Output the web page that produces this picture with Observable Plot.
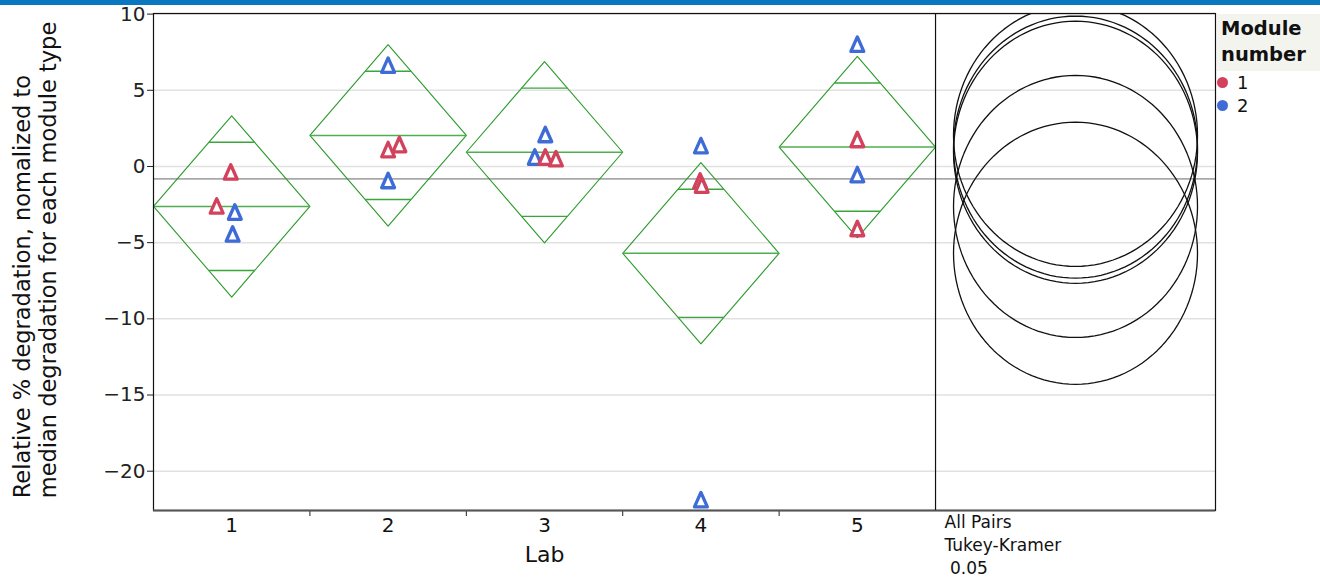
<!DOCTYPE html>
<html>
<head>
<meta charset="utf-8">
<script src="https://cdn.jsdelivr.net/npm/d3@7"></script>
<script src="https://cdn.jsdelivr.net/npm/@observablehq/plot@0.6"></script>
<style>
  body { margin: 0; background: #fff; font-family: "DejaVu Sans", sans-serif; }
  #wrap { position: relative; width: 1320px; height: 577px; overflow: hidden; background: #fff; }
  #bar { position: absolute; left: 0; top: 0; width: 1320px; height: 5px; background: #0b77bf; z-index: 2; }
  #ytitle { position: absolute; left: 35px; top: 260px; transform: translate(-50%, -50%) rotate(-90deg);
    white-space: nowrap; text-align: left; font-size: 22.5px; line-height: 26px; color: #111; z-index: 2; }
  #legend { position: absolute; left: 1217px; top: 14px; width: 103px; z-index: 2; }
  #legend .title { background: #f4f4ef; font-weight: bold; font-size: 19.5px; line-height: 26px; padding: 2px 0 3px 4px; color: #111; }
  #legend .item { position: relative; height: 23px; font-size: 18px; line-height: 23px; color: #111; }
  #legend .dot { position: absolute; left: 0px; top: 6px; width: 11px; height: 11px; border-radius: 50%; }
  #legend .lab { position: absolute; left: 20px; top: 0; }
  #chart { position: absolute; left: 0; top: 0; }
</style>
</head>
<body>
<div id="wrap">
  <div id="bar"></div>
  <div id="ytitle">Relative % degradation, nomalized to<br>median degradation for each module type</div>
  <div id="chart"></div>
  <div id="legend"></div>
</div>
<script>
// ---- data ----
const labs = [1, 2, 3, 4, 5];
const pointLab    = [1, 1, 1, 1,  2, 2, 2, 2,  3, 3, 3, 3,  4, 4, 4, 4,  5, 5, 5, 5];
const pointModule = [1, 1, 2, 2,  2, 1, 1, 2,  2, 2, 1, 1,  2, 1, 1, 2,  2, 1, 2, 1];
const pointValue  = [-0.39, -2.62, -3.02, -4.46,
                     6.62, 1.08, 1.41, -0.95,
                     2.07, 0.59, 0.59, 0.48,
                     1.34, -0.98, -1.25, -21.9,
                     8.0, 1.74, -0.56, -4.1];
const pointJitter = [-0.006, -0.096, 0.02, 0.006,
                     0, 0, 0.072, 0,
                     0.005, -0.062, 0.005, 0.073,
                     0, -0.005, 0.005, 0,
                     0, 0, 0, 0];
const ciHalfWidth = 5.95;      // 95% CI half-width of each mean (diamond half-height)
const circleRadius = 8.6;      // Tukey-Kramer comparison circle radius
const yTicks = [-20, -15, -10, -5, 0, 5, 10];
const modules = ["1", "2"];
const moduleColors = ["#d2425c", "#3e6bd6"];
const comparisonText = "All Pairs\nTukey-Kramer\n\u00a00.05";

// ---- derived ----
const yDomain = [-22.58, 10.04];
const xDomain = [0.5, 7.29];
const panelLeft = 5.5;
const panelCenter = (panelLeft + xDomain[1]) / 2;
const circleRx = 0.78;

const points = pointLab.map((lab, i) => ({
  x: lab + pointJitter[i], y: pointValue[i], module: String(pointModule[i])
}));
const means = labs.map(lab => ({
  lab, mean: d3.mean(points.filter((p, i) => pointLab[i] === lab), p => p.y)
}));
const grandMean = d3.mean(pointValue);

const diamonds = means.flatMap(({lab, mean}) => [
  {lab, x: lab - 0.5, y: mean},
  {lab, x: lab, y: mean + ciHalfWidth},
  {lab, x: lab + 0.5, y: mean},
  {lab, x: lab, y: mean - ciHalfWidth},
  {lab, x: lab - 0.5, y: mean}
]);
const k = 0.5 * (1 - Math.SQRT1_2);
const overlap = means.flatMap(({lab, mean}) => [
  {x1: lab - k, x2: lab + k, y: mean + ciHalfWidth * Math.SQRT1_2},
  {x1: lab - k, x2: lab + k, y: mean - ciHalfWidth * Math.SQRT1_2}
]);
const circles = means.flatMap(({lab, mean}) =>
  d3.range(0, 121).map(j => {
    const t = (j / 120) * 2 * Math.PI;
    return {lab, x: panelCenter + circleRx * Math.cos(t), y: mean + circleRadius * Math.sin(t)};
  })
);

// slightly narrow triangle marker, like the reference
const jmpTriangle = {
  draw(context, size) {
    const u = Math.sqrt(size / Math.PI);
    context.moveTo(0, -1.38 * u);
    context.lineTo(1.02 * u, 0.92 * u);
    context.lineTo(-1.02 * u, 0.92 * u);
    context.closePath();
  }
};

const green = "#2a9a2a";
const chart = Plot.plot({
  width: 1320,
  height: 577,
  marginLeft: 153,
  marginRight: 105,
  marginTop: 13,
  marginBottom: 67,
  style: {fontFamily: "DejaVu Sans", fontSize: "20px", color: "#222", background: "transparent", overflow: "visible"},
  x: {domain: xDomain, ticks: [1.5, 2.5, 3.5, 4.5], tickFormat: () => "", tickSize: 6, label: null},
  y: {domain: yDomain, ticks: yTicks, tickSize: 6, tickPadding: 2, label: null},
  color: {domain: modules, range: moduleColors},
  marks: [
    Plot.ruleY(yTicks, {stroke: "#e1e1e1", strokeWidth: 1.5}),
    Plot.ruleY([grandMean], {stroke: "#a8a8a8", strokeWidth: 1.8}),
    Plot.line(diamonds, {x: "x", y: "y", z: "lab", stroke: green, strokeWidth: 1.1}),
    Plot.link(means, {x1: d => d.lab - 0.5, x2: d => d.lab + 0.5, y1: "mean", y2: "mean", stroke: "#4fae4f", strokeWidth: 1.5}),
    Plot.link(overlap, {x1: "x1", x2: "x2", y1: "y", y2: "y", stroke: "#3aa53a", strokeWidth: 1.4}),
    Plot.line(circles, {x: "x", y: "y", z: "lab", stroke: "#111", strokeWidth: 1.3, clip: true}),
    Plot.dot(points, {x: "x", y: "y", stroke: "module", fill: "white", symbol: jmpTriangle, r: 6.3, strokeWidth: 3.3, strokeLinejoin: "round", dy: 1}),
    Plot.frame({stroke: "#111", strokeWidth: 1.2}),
    Plot.ruleY([yDomain[0]], {stroke: "#555", strokeWidth: 1.8}),
    Plot.ruleX([panelLeft], {stroke: "#111", strokeWidth: 1.2}),
    Plot.text(labs, {x: d => d, text: d => String(d), frameAnchor: "bottom", dy: 21, fontSize: 20, fill: "#111"}),
    Plot.text([{x: d3.mean(labs), t: "Lab"}], {x: "x", text: "t", frameAnchor: "bottom", dy: 51, fontSize: 22, fill: "#111"}),
    Plot.text([{x: panelLeft, t: comparisonText}], {x: "x", text: "t", frameAnchor: "bottom", textAnchor: "start", lineAnchor: "top", dx: 9, dy: 1, fontSize: 17, lineHeight: 1.36, fill: "#111"})
  ]
});
document.getElementById("chart").appendChild(chart);

// legend
const legend = document.getElementById("legend");
legend.innerHTML = `<div class="title">Module<br>number</div>` +
  modules.map((m, i) => `<div class="item"><span class="dot" style="background:${moduleColors[i]}"></span><span class="lab">${m}</span></div>`).join("");
</script>
</body>
</html>
